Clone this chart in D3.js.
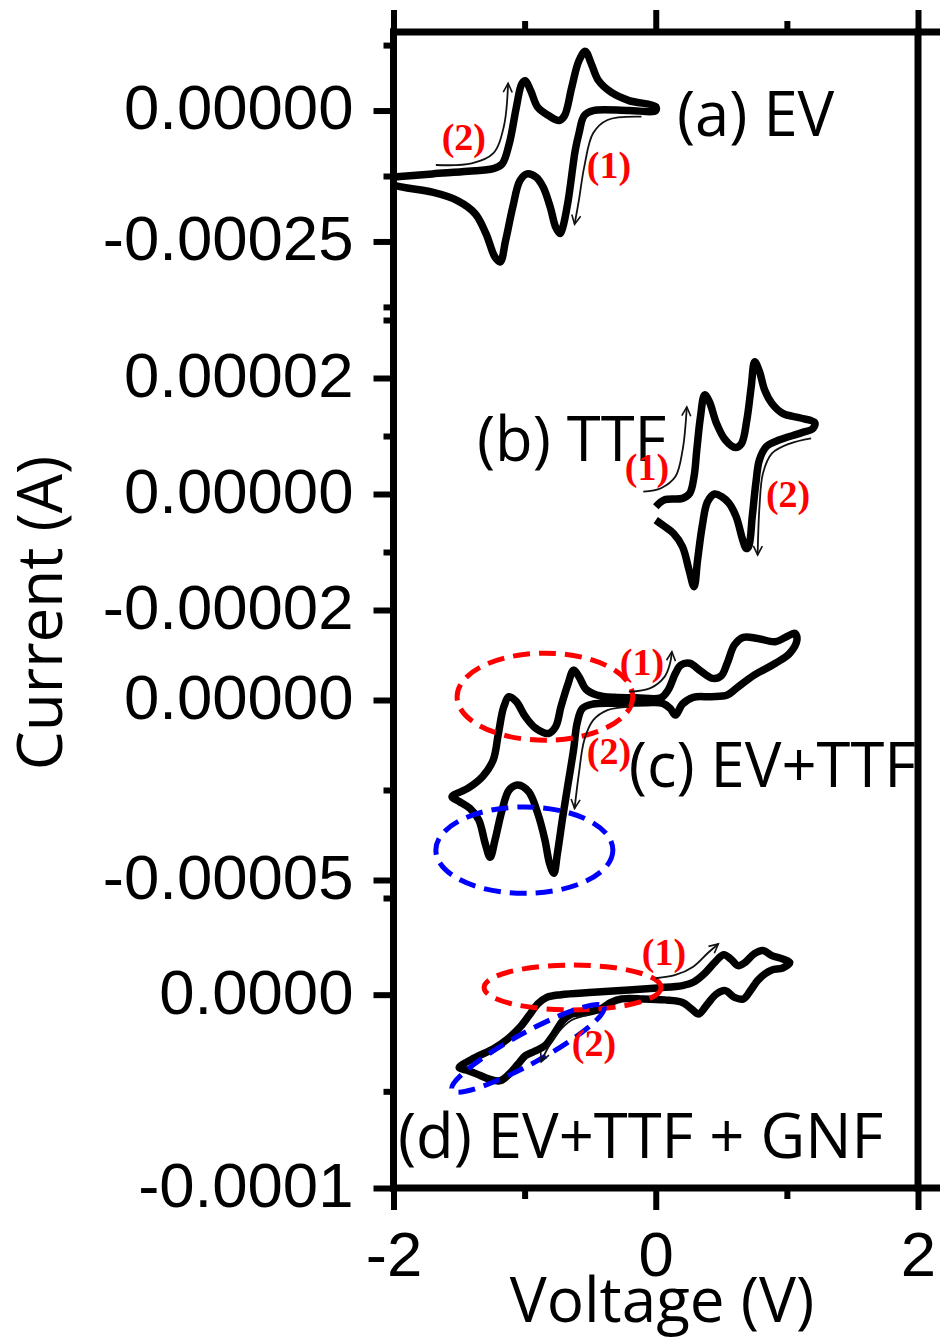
<!DOCTYPE html>
<html><head><meta charset="utf-8">
<script src="https://cdn.jsdelivr.net/npm/d3@7"></script>
<style>body{margin:0;background:#fff}</style>
</head><body>
<svg id="c" width="940" height="1339"></svg>
<script>
// ---------------- DATA ----------------
// (a) EV : upper (anodic) branch then lower (cathodic) branch
const evV = [-2.0,-1.704,-1.431,-1.240,-1.172,-1.118,-1.063,-1.022,-0.995,-0.954,-0.900,-0.818,-0.736,-0.695,-0.641,-0.586,-0.537,-0.491,-0.436,-0.341,-0.204,0.0,
             0.0,-0.204,-0.477,-0.545,-0.586,-0.614,-0.668,-0.709,-0.731,-0.763,-0.804,-0.859,-0.914,-0.982,-1.036,-1.091,-1.145,-1.186,-1.226,-1.295,-1.377,-1.513,-1.704,-1.895,-2.0];
const evI = [-1.27e-4,-1.21e-4,-1.16e-4,-1.11e-4,-1.02e-4,-6.4e-5,6.3e-6,5.1e-5,5.7e-5,3.8e-5,6.3e-6,-9.5e-6,-1.9e-5,-9.5e-6,4.4e-5,9.5e-5,1.13e-4,8.9e-5,5.7e-5,3.5e-5,1.9e-5,7.6e-6,
             0,0,0,-9.5e-6,-4.4e-5,-7.6e-5,-1.72e-4,-2.23e-4,-2.35e-4,-2.23e-4,-1.85e-4,-1.46e-4,-1.27e-4,-1.21e-4,-1.34e-4,-1.85e-4,-2.48e-4,-2.89e-4,-2.80e-4,-2.35e-4,-1.97e-4,-1.72e-4,-1.56e-4,-1.48e-4,-1.43e-4];
// (b) TTF
const ttfV = [0.0,0.068,0.204,0.259,0.292,0.313,0.341,0.373,0.409,0.463,0.531,0.608,0.654,0.695,0.728,0.755,0.791,0.831,0.886,0.968,1.104,1.213,1.199,1.104,0.940,0.845,0.791,0.763,0.736,0.708,0.689,0.663,0.613,0.559,0.504,0.450,0.395,0.354,0.319,0.292,0.254,0.204,0.136,0.068,0.0];
const ttfI = [-2.2e-6,-1.0e-6,-7.5e-7,1.1e-7,3.0e-6,7.6e-6,1.33e-5,1.71e-5,1.59e-5,1.22e-5,9.3e-6,8.0e-6,8.7e-6,1.28e-5,1.85e-5,2.28e-5,2.11e-5,1.79e-5,1.56e-5,1.39e-5,1.31e-5,1.23e-5,1.13e-5,1.05e-5,9.3e-6,8.2e-6,5.9e-6,1.8e-6,-3.9e-6,-9.1e-6,-9.4e-6,-7.9e-6,-3.9e-6,-1.6e-6,-4.7e-7,0,-1.33e-6,-5.6e-6,-1.14e-5,-1.6e-5,-1.31e-5,-9.1e-6,-6.8e-6,-5.6e-6,-4.5e-6];
// (c) EV+TTF (closed loop)
const mixV = [-1.554,-1.431,-1.322,-1.240,-1.200,-1.159,-1.118,-1.063,-0.995,-0.914,-0.818,-0.763,-0.723,-0.668,-0.627,-0.586,-0.532,-0.450,-0.314,-0.150,0.041,0.095,0.150,0.191,0.259,0.341,0.436,0.499,0.545,0.600,0.668,0.777,0.913,1.008,1.063,1.077,1.022,0.913,0.750,0.613,0.545,0.422,0.286,0.204,0.150,0.109,0.054,-0.068,-0.259,-0.477,-0.559,-0.600,-0.627,-0.668,-0.709,-0.750,-0.777,-0.810,-0.845,-0.900,-0.968,-1.050,-1.118,-1.172,-1.226,-1.263,-1.301,-1.350,-1.418,-1.499];
const mixI = [-2.69e-5,-2.45e-5,-2.13e-5,-1.67e-5,-9.3e-6,-1.9e-6,9.3e-7,-4.6e-7,-4.6e-6,-7.9e-6,-9.3e-6,-7.4e-6,-1.9e-6,4.6e-6,8.3e-6,6.5e-6,3.0e-6,1.4e-6,7.4e-7,6.5e-7,6.5e-7,2.8e-6,7.4e-6,9.7e-6,1.02e-5,8.1e-6,6.0e-6,6.7e-6,1.02e-5,1.53e-5,1.74e-5,1.71e-5,1.62e-5,1.78e-5,1.85e-5,1.67e-5,1.30e-5,1.02e-5,6.9e-6,3.2e-6,1.4e-6,9.3e-7,7.4e-7,-1.1e-6,-4.2e-6,-2.3e-6,-9.3e-7,-7.4e-7,-9.3e-7,-1.1e-6,-2.3e-6,-6.5e-6,-1.39e-5,-2.31e-5,-3.24e-5,-4.26e-5,-4.81e-5,-4.54e-5,-3.89e-5,-3.15e-5,-2.55e-5,-2.36e-5,-2.50e-5,-3.06e-5,-3.89e-5,-4.37e-5,-3.98e-5,-3.33e-5,-3.01e-5,-2.82e-5];
// (d) EV+TTF + GNF (closed loop)
const gnfV = [-1.499,-1.377,-1.240,-1.131,-1.036,-0.968,-0.900,-0.831,-0.723,-0.477,-0.204,0.013,0.204,0.286,0.368,0.450,0.518,0.572,0.627,0.682,0.750,0.818,0.886,0.968,1.022,0.968,0.886,0.831,0.777,0.722,0.668,0.600,0.531,0.463,0.395,0.327,0.273,0.204,0.068,-0.095,-0.259,-0.341,-0.423,-0.532,-0.641,-0.709,-0.777,-0.845,-0.927,-0.995,-1.050,-1.118,-1.186,-1.268,-1.363,-1.445];
const gnfI = [-3.77e-5,-3.25e-5,-2.81e-5,-2.30e-5,-1.69e-5,-1.09e-5,-4.8e-6,-1.4e-6,0,1.2e-6,2.4e-6,3.5e-6,4.7e-6,6.4e-6,1.07e-5,1.67e-5,2.07e-5,1.85e-5,1.50e-5,1.67e-5,2.11e-5,2.28e-5,2.02e-5,1.85e-5,1.67e-5,1.38e-5,1.28e-5,1.07e-5,7.3e-6,2.1e-6,-2.2e-6,-1.4e-6,2.1e-6,3.6e-7,-4.8e-6,-1.0e-5,-7.4e-6,-4.0e-6,-2.7e-6,-2.2e-6,-2.2e-6,-4.0e-6,-7.4e-6,-9.2e-6,-1.0e-5,-1.35e-5,-2.04e-5,-2.64e-5,-2.94e-5,-3.16e-5,-3.59e-5,-4.11e-5,-4.45e-5,-4.37e-5,-4.11e-5,-3.90e-5];

// axis ticks
const xMajor = [-2, 0, 2];
const xLabels = ["-2", "0", "2"];
const xMinor = [-1, 1];
const aMajor = [0, -0.00025], aLabels = ["0.00000", "-0.00025"], aMinor = [0.000125, -0.000125, -0.000375];
const bMajor = [0.00002, 0, -0.00002], bLabels = ["0.00002", "0.00000", "-0.00002"], bMinor = [0.00003, 0.00001, -0.00001];
const cMajor = [0, -0.00005], cLabels = ["0.00000", "-0.00005"], cMinor = [-0.000025];
const dMajor = [0, -0.0001], dLabels = ["0.0000", "-0.0001"], dMinor = [0.00005, -0.00005];
const panelNames = ["(a) EV", "(b) TTF", "(c) EV+TTF", "(d) EV+TTF + GNF"];
const xTitle = "Voltage (V)", yTitle = "Current (A)";

// scan-direction arrows [V, I]
const evArrow1 = [[-0.109,-1.18e-5],[-0.368,-1.8e-5],[-0.477,-4.3e-5],[-0.545,-1.07e-4],[-0.586,-1.71e-4],[-0.619,-2.17e-4]];
const evArrow2 = [[-1.677,-1.04e-4],[-1.404,-1.01e-4],[-1.240,-8.2e-5],[-1.159,-3.1e-5],[-1.126,5.2e-5]];
const ttfArrow1 = [[-0.095,4e-7],[0.040,1.0e-6],[0.150,3.0e-6],[0.205,7.6e-6],[0.237,1.5e-5]];
const ttfArrow2 = [[1.185,9.6e-6],[1.022,8.7e-6],[0.886,7.0e-6],[0.818,3.6e-6],[0.791,-2.2e-6],[0.777,-1.05e-5]];
const mixArrow1 = [[-0.205,2.3e-6],[-0.041,3.3e-6],[0.068,6.5e-6],[0.109,1.02e-5],[0.123,1.34e-5]];
const mixArrow2 = [[-0.205,-1.9e-6],[-0.368,-2.8e-6],[-0.477,-5.6e-6],[-0.545,-1.11e-5],[-0.586,-2.04e-5],[-0.619,-3.01e-5]];
const gnfArrow1 = [[0.0,8.5e-6],[0.150,1.02e-5],[0.286,1.45e-5],[0.395,2.14e-5],[0.477,2.62e-5]];
const gnfArrow2 = [[-0.505,-1.05e-5],[-0.640,-1.31e-5],[-0.750,-2.0e-5],[-0.831,-2.86e-5],[-0.873,-3.47e-5]];
// step labels [text, V, I]
const evSteps = [["(2)",-1.464,-5.1e-5],["(1)",-0.357,-1.04e-4]];
const ttfSteps = [["(1)",-0.067,4.5e-6],["(2)",1.009,0]];
const mixSteps = [["(1)",-0.105,1.03e-5],["(2)",-0.357,-1.42e-5]];
const gnfSteps = [["(1)",0.063,2.16e-5],["(2)",-0.471,-2.5e-5]];
// highlight ellipses: centre V, centre I, radius V, radius I
const mixEllipses = [{c:"#ff0000", v:-0.845, i:9.2e-7, rv:0.67, ri:1.21e-5},
                     {c:"#0000ff", v:-1.002, i:-4.17e-5, rv:0.675, ri:1.2e-5}];
const gnfRedEllipse = {c:"#ff0000", v:-0.634, i:3.7e-6, rv:0.675, ri:1.16e-5};
const gnfBlueEllipse = {c:"#0000ff", v1:-1.554, i1:-4.93e-5, v2:-0.395, i2:-6.2e-6, ri:8.0e-6};

// ---------------- LAYOUT ----------------
const svg = d3.select("#c");
const x = d3.scaleLinear().domain([-2, 2]).range([393.5, 918]);
const panels = [
  {y: d3.scaleLinear().domain([-0.0004, 0.00015]).range([320, 32]), maj: aMajor, lab: aLabels, min: aMinor},
  {y: d3.scaleLinear().domain([-0.00002, 0.00003]).range([610, 320]), maj: bMajor, lab: bLabels, min: bMinor},
  {y: d3.scaleLinear().domain([-0.000055, 0.000025]).range([898, 610]), maj: cMajor, lab: cLabels, min: cMinor},
  {y: d3.scaleLinear().domain([-0.0001, 0.00005]).range([1188, 898]), maj: dMajor, lab: dLabels, min: dMinor}
];
const [ya, yb, yc, yd] = panels.map(p => p.y);

const defs = svg.append("defs");
defs.append("clipPath").attr("id", "plot").append("rect")
  .attr("x", 393.5).attr("y", 32).attr("width", 918 - 393.5).attr("height", 1188 - 32);
defs.append("marker").attr("id", "ah").attr("markerUnits", "userSpaceOnUse")
  .attr("viewBox", "-1 -6 12 12").attr("markerWidth", 12).attr("markerHeight", 12)
  .attr("refX", 9).attr("refY", 0).attr("orient", "auto")
  .append("path").attr("d", "M0,-4.5L9,0L0,4.5").attr("fill", "none")
  .attr("stroke", "#111").attr("stroke-width", 1.6);

const labelFont = "'Open Sans', 'Noto Sans', sans-serif";
const tickFont = "'Liberation Sans', Arial, sans-serif";

// panel names
const namePos = [[0.162, -4.9e-5, ya], [-1.364, 5.7e-6, yb], [-0.205, -2.42e-5, yc], [-1.966, -8.45e-5, yd]];
const nameG = svg.append("g").attr("clip-path", "url(#plot)");
panelNames.forEach((t, k) => {
  const [v, i, ys] = namePos[k];
  nameG.append("text").attr("x", x(v)).attr("y", ys(i)).text(t)
    .attr("font-family", labelFont).attr("font-size", 61.5).attr("fill", "#000");
});

// CV curves
const lineOpen = ys => d3.line().x(d => x(d[0])).y(d => ys(d[1])).curve(d3.curveCatmullRom.alpha(0.5));
const lineClosed = ys => d3.line().x(d => x(d[0])).y(d => ys(d[1])).curve(d3.curveCatmullRomClosed.alpha(0.5));
const curves = [
  {d: d3.zip(evV, evI), ys: ya, closed: false},
  {d: d3.zip(ttfV, ttfI), ys: yb, closed: false},
  {d: d3.zip(mixV, mixI), ys: yc, closed: true},
  {d: d3.zip(gnfV, gnfI), ys: yd, closed: true}
];
curves.forEach(c => {
  svg.append("path").attr("d", (c.closed ? lineClosed : lineOpen)(c.ys)(c.d))
    .attr("fill", "none").attr("stroke", "#000").attr("stroke-width", 7.5)
    .attr("stroke-linejoin", "round").attr("stroke-linecap", "butt");
});

// ellipses
const dash = "17,9";
mixEllipses.concat([gnfRedEllipse]).forEach((e, k) => {
  const ys = k < 2 ? yc : yd;
  svg.append("ellipse").attr("cx", x(e.v)).attr("cy", ys(e.i))
    .attr("rx", x(e.v + e.rv) - x(e.v)).attr("ry", ys(0) - ys(e.ri))
    .attr("fill", "none").attr("stroke", e.c).attr("stroke-width", 5).attr("stroke-dasharray", dash);
});
{
  const e = gnfBlueEllipse;
  const x1 = x(e.v1), y1 = yd(e.i1), x2 = x(e.v2), y2 = yd(e.i2);
  const cx = (x1 + x2) / 2, cy = (y1 + y2) / 2;
  const a = Math.hypot(x2 - x1, y2 - y1) / 2, ang = Math.atan2(y2 - y1, x2 - x1) * 180 / Math.PI;
  svg.append("ellipse").attr("cx", 0).attr("cy", 0).attr("rx", a).attr("ry", yd(0) - yd(e.ri))
    .attr("transform", `translate(${cx},${cy}) rotate(${ang})`)
    .attr("fill", "none").attr("stroke", e.c).attr("stroke-width", 5).attr("stroke-dasharray", dash);
}

// arrows
[[evArrow1, ya], [evArrow2, ya], [ttfArrow1, yb], [ttfArrow2, yb], [mixArrow1, yc], [mixArrow2, yc], [gnfArrow1, yd], [gnfArrow2, yd]]
  .forEach(([pts, ys]) => {
    svg.append("path").attr("d", lineOpen(ys)(pts)).attr("fill", "none")
      .attr("stroke", "#111").attr("stroke-width", 1.8).attr("marker-end", "url(#ah)");
  });

// step labels
[[evSteps, ya], [ttfSteps, yb], [mixSteps, yc], [gnfSteps, yd]].forEach(([arr, ys]) => {
  arr.forEach(([t, v, i]) => {
    svg.append("text").attr("x", x(v)).attr("y", ys(i)).attr("dy", "0.33em").text(t)
      .attr("text-anchor", "middle").attr("font-family", "'Liberation Serif', 'Times New Roman', serif")
      .attr("font-weight", "bold").attr("font-size", 38).attr("fill", "#ff0000");
  });
});

// axes
function styleAxis(g, sw) {
  g.select(".domain").remove();
  g.selectAll(".tick line").attr("stroke", "#000").attr("stroke-width", sw);
  g.selectAll(".tick text").attr("font-family", tickFont).attr("font-size", 63.5).attr("fill", "#000");
}
panels.forEach(p => {
  const gM = svg.append("g").attr("transform", "translate(393.5,0)")
    .call(d3.axisLeft(p.y).tickValues(p.maj).tickFormat((d, i) => p.lab[i]).tickSize(20).tickPadding(20));
  styleAxis(gM, 6);
  gM.selectAll(".tick text").attr("dy", "0.29em");
  const gm = svg.append("g").attr("transform", "translate(393.5,0)")
    .call(d3.axisLeft(p.y).tickValues(p.min).tickFormat("").tickSize(10));
  styleAxis(gm, 6);
});
const gxb = svg.append("g").attr("transform", "translate(0,1188)")
  .call(d3.axisBottom(x).tickValues(xMajor).tickFormat((d, i) => xLabels[i]).tickSize(22).tickPadding(21));
styleAxis(gxb, 6);
styleAxis(svg.append("g").attr("transform", "translate(0,1188)")
  .call(d3.axisBottom(x).tickValues(xMinor).tickFormat("").tickSize(11)), 6);
styleAxis(svg.append("g").attr("transform", "translate(0,32)")
  .call(d3.axisTop(x).tickValues(xMajor).tickFormat("").tickSize(22)), 6);
styleAxis(svg.append("g").attr("transform", "translate(0,32)")
  .call(d3.axisTop(x).tickValues(xMinor).tickFormat("").tickSize(11)), 6);

// frame
const frame = svg.append("g").attr("stroke", "#000").attr("stroke-width", 7);
frame.append("line").attr("x1", 390).attr("x2", 945).attr("y1", 32).attr("y2", 32);
frame.append("line").attr("x1", 390).attr("x2", 945).attr("y1", 1188).attr("y2", 1188);
frame.append("line").attr("x1", x(-2)).attr("x2", x(-2)).attr("y1", 28.5).attr("y2", 1191.5);
frame.append("line").attr("x1", x(2)).attr("x2", x(2)).attr("y1", 28.5).attr("y2", 1191.5);

// titles
svg.append("text").attr("x", 662).attr("y", 1322).attr("text-anchor", "middle").text(xTitle)
  .attr("font-family", labelFont).attr("font-size", 62).attr("fill", "#000");
svg.append("text").attr("transform", "translate(62,613) rotate(-90)").attr("text-anchor", "middle").text(yTitle)
  .attr("font-family", labelFont).attr("font-size", 62).attr("fill", "#000");
</script>
</body></html>
